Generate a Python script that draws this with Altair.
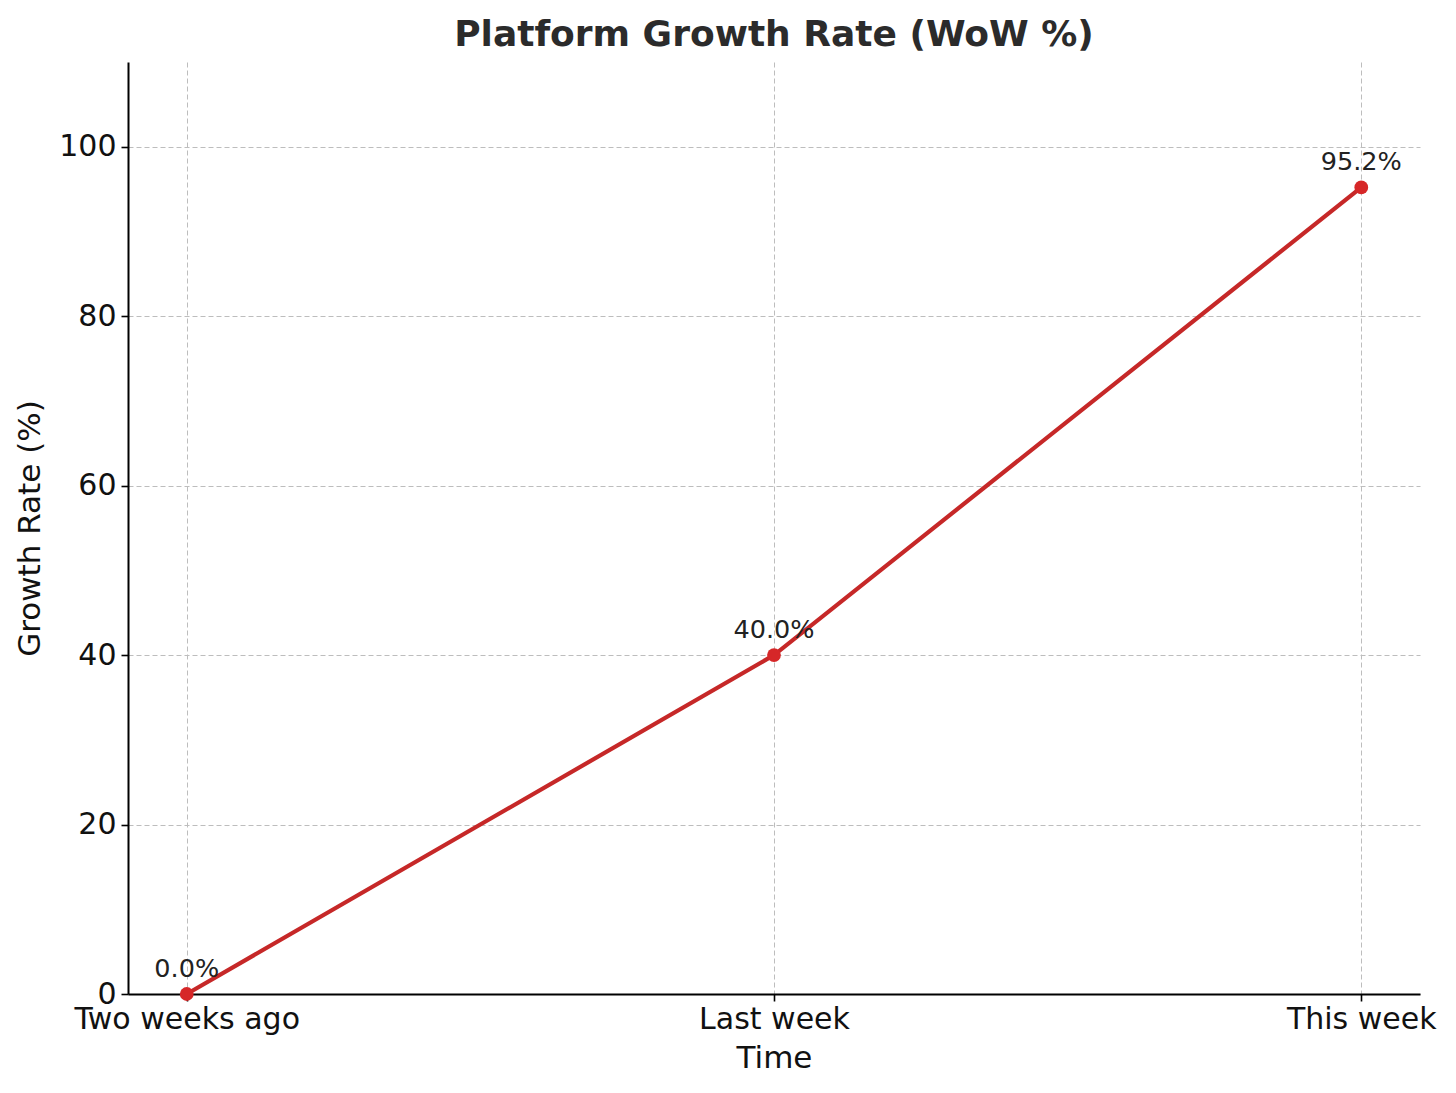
import altair as alt
import pandas as pd

categories = ["Two weeks ago", "Last week", "This week"]
growth = [0.0, 40.0, 95.2]
labels = ["0.0%", "40.0%", "95.2%"]

df = pd.DataFrame({"Time": categories, "Growth": growth, "Label": labels})

FONT = "DejaVu Sans"

x = alt.X("Time:N", sort=categories,
          scale=alt.Scale(type="point", padding=0.1),
          axis=alt.Axis(title="Time", labelAngle=0, labelLimit=0))
y = alt.Y("Growth:Q", scale=alt.Scale(domain=[0, 110], nice=False),
          axis=alt.Axis(title="Growth Rate (%)", values=[0, 20, 40, 60, 80, 100]))

line = alt.Chart(df).mark_line(color="#c62828", strokeWidth=4.2).encode(x=x, y=y)
pts = alt.Chart(df).mark_circle(color="#d62728", size=190, opacity=1).encode(x=x, y=y)
txt = alt.Chart(df).mark_text(fontSize=25.5, font=FONT, color="#222222", dy=-17,
                              baseline="alphabetic", align="center").encode(
    x=x, y=y, text="Label:N")

chart = alt.layer(line, pts, txt).properties(
    width=1292, height=932,
    title=alt.TitleParams("Platform Growth Rate (WoW %)", font=FONT, fontSize=36,
                          fontWeight="bold", color="#2b2b2b", anchor="middle", offset=8),
    autosize=alt.AutoSizeParams(type="none"),
    padding={"left": 120, "top": 54, "right": 28, "bottom": 80},
).configure_view(stroke=None).configure_axis(
    labelFont=FONT, titleFont=FONT, labelFontSize=30, titleFontSize=31,
    labelColor="#111111", titleColor="#111111", titleFontWeight="normal",
    domainColor="#000000", domainWidth=2, tickColor="#000000", tickWidth=1.6, tickSize=7,
    grid=True, gridColor="#bdbdbd", gridDash=[5, 3], gridWidth=1,
    labelPadding=5,
).configure_axisY(titlePadding=12).configure_axisX(titlePadding=9, labelPadding=3)

chart.save("out.html", embed_options={"renderer": "svg", "actions": False})
